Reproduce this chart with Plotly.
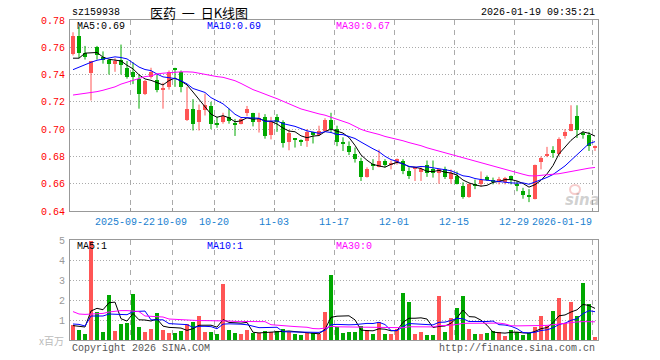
import plotly.graph_objects as go

# ---------------- data ----------------
code = "sz159938"
title = "医药\u00a0\u00a0一\u00a0\u00a0日K线图"
stamp = "2026-01-19 09:35:21"

opens = [0.755, 0.768, 0.756, 0.741, 0.760, 0.753, 0.751, 0.748, 0.751, 0.745,
         0.742, 0.737, 0.726, 0.738, 0.736, 0.729, 0.731, 0.7445, 0.742, 0.707,
         0.715, 0.705, 0.714, 0.717, 0.704, 0.705, 0.709, 0.704, 0.704, 0.712,
         0.712, 0.705, 0.709, 0.696, 0.709, 0.705, 0.6905, 0.693, 0.6915, 0.691,
         0.698, 0.6955, 0.699, 0.7065, 0.700, 0.6905, 0.688, 0.682, 0.677, 0.665,
         0.674, 0.6725, 0.677, 0.674, 0.6755, 0.677, 0.669, 0.6705, 0.6685, 0.6735,
         0.671, 0.6675, 0.6705, 0.6635, 0.666, 0.658, 0.6505, 0.6595, 0.660, 0.665,
         0.6627, 0.661, 0.661, 0.6655, 0.660, 0.6545, 0.652, 0.649, 0.676, 0.680,
         0.685, 0.6815, 0.695, 0.699, 0.7095, 0.697, 0.6955, 0.6868]
highs = [0.771, 0.775, 0.761, 0.750, 0.761, 0.757, 0.751, 0.752, 0.762, 0.750,
         0.749, 0.740, 0.736, 0.745, 0.740, 0.734, 0.743, 0.745, 0.743, 0.731,
         0.722, 0.718, 0.726, 0.720, 0.709, 0.712, 0.715, 0.7075, 0.708, 0.717,
         0.712, 0.712, 0.711, 0.709, 0.711, 0.7065, 0.6995, 0.693, 0.6925, 0.700,
         0.698, 0.7025, 0.708, 0.712, 0.7025, 0.694, 0.691, 0.6865, 0.679, 0.672,
         0.678, 0.685, 0.678, 0.677, 0.6785, 0.678, 0.672, 0.6725, 0.672, 0.677,
         0.677, 0.6705, 0.6725, 0.6705, 0.669, 0.661, 0.660, 0.663, 0.669, 0.666,
         0.6645, 0.665, 0.665, 0.666, 0.662, 0.657, 0.656, 0.674, 0.680, 0.687,
         0.6875, 0.694, 0.700, 0.7175, 0.7175, 0.6985, 0.698, 0.688]
lows = [0.754, 0.752, 0.751, 0.721, 0.751, 0.748, 0.740, 0.742, 0.740, 0.737,
        0.733, 0.715, 0.725, 0.737, 0.727, 0.715, 0.729, 0.731, 0.727, 0.706,
        0.699, 0.699, 0.710, 0.700, 0.701, 0.704, 0.704, 0.695, 0.7035, 0.7095,
        0.702, 0.6975, 0.693, 0.6925, 0.698, 0.6865, 0.6845, 0.6865, 0.6877, 0.687,
        0.6895, 0.695, 0.699, 0.6975, 0.6875, 0.684, 0.681, 0.6755, 0.662, 0.6645,
        0.670, 0.672, 0.672, 0.6705, 0.674, 0.667, 0.6635, 0.662, 0.662, 0.665,
        0.6645, 0.660, 0.6635, 0.660, 0.6595, 0.649, 0.6497, 0.656, 0.658, 0.662,
        0.6595, 0.6595, 0.6595, 0.6595, 0.6545, 0.649, 0.6465, 0.6485, 0.6705, 0.6795,
        0.679, 0.6805, 0.693, 0.6985, 0.6935, 0.693, 0.684, 0.684]
closes = [0.768, 0.756, 0.753, 0.750, 0.754, 0.751, 0.748, 0.750, 0.747, 0.738,
          0.738, 0.726, 0.735, 0.742, 0.729, 0.730, 0.742, 0.744, 0.731, 0.715,
          0.704, 0.714, 0.718, 0.704, 0.7035, 0.710, 0.706, 0.7035, 0.7075, 0.7145,
          0.705, 0.708, 0.695, 0.706, 0.705, 0.690, 0.697, 0.6925, 0.691, 0.698,
          0.696, 0.699, 0.707, 0.700, 0.6905, 0.689, 0.683, 0.678, 0.665, 0.671,
          0.6735, 0.677, 0.674, 0.6755, 0.678, 0.669, 0.666, 0.672, 0.6705, 0.668,
          0.668, 0.6705, 0.665, 0.668, 0.660, 0.650, 0.660, 0.658, 0.663, 0.663,
          0.661, 0.6635, 0.6645, 0.663, 0.658, 0.652, 0.650, 0.6735, 0.679, 0.6815,
          0.6825, 0.693, 0.698, 0.704, 0.6995, 0.6955, 0.6875, 0.688]
volumes = [0.75, 0.5, 0.3, 4.95, 1.42, 0.4, 2.25, 0.45, 0.8, 0.83,
           2.3, 0.67, 0.4, 0.55, 1.35, 0.5, 0.35, 0.33, 0.45, 0.78,
           0.92, 1.2, 0.4, 0.4, 0.3, 2.8, 0.5, 0.33, 0.28, 0.5,
           0.33, 0.33, 0.45, 0.4, 0.45, 0.55, 0.4, 0.3, 0.25, 0.35,
           0.35, 0.3, 1.42, 3.25, 0.63, 0.35, 0.4, 0.4, 0.7, 0.5,
           0.3, 0.9, 0.3, 0.3, 0.55, 2.37, 1.92, 0.3, 0.4, 0.25,
           0.25, 2.2, 0.4, 1.1, 1.6, 2.2, 0.55, 0.3, 0.3, 0.35,
           0.47, 0.4, 0.2, 0.5, 0.4, 0.27, 0.35, 0.63, 1.18, 0.68,
           1.47, 2.08, 0.85, 1.92, 1.22, 2.83, 1.8, 0.13]

# moving-average values visible before enough bars exist on the chart
ma5_head = [0.752, 0.752, 0.7557, 0.7557]
ma10_head = [0.7436, 0.7455, 0.747, 0.749, 0.7505, 0.7515, 0.7525, 0.753, 0.7525]
ma30_head = [0.725, 0.7255, 0.726, 0.7267, 0.7275, 0.7285, 0.7295, 0.731, 0.733, 0.7345,
             0.736, 0.737, 0.7385, 0.739, 0.7405, 0.741, 0.7415, 0.7418, 0.742, 0.742,
             0.7418, 0.741, 0.740, 0.7395, 0.7385, 0.738, 0.737, 0.7355, 0.7335]
vma5_head = [0.72, 0.68, 0.65, 1.45]
vma10_head = [0.8, 0.78, 0.7, 1.2, 1.2, 1.2, 1.3, 1.3, 1.3]
vma30_head = [1.42, 1.3, 1.28, 1.3, 1.33, 1.33, 1.4, 1.45, 1.47, 1.47,
              1.45, 1.42, 1.2, 1.18, 1.18, 1.15, 1.05, 1.03, 1.02, 0.98,
              0.97, 0.97, 0.97, 0.97, 0.97, 0.98, 0.95, 0.93, 0.93]

tick_index = [10, 17, 24, 34, 44, 54, 64, 74, 87]
tick_labels = ["2025-09-22", "10-09", "10-20", "11-03", "11-17", "12-01", "12-15", "12-29", "2026-01-19"]
price_ticks = [0.64, 0.66, 0.68, 0.70, 0.72, 0.74, 0.76, 0.78]
vol_ticks = [1, 2, 3, 4, 5]

# ---------------- helpers ----------------
def moving(vals, n, head):
    out = []
    for i in range(len(vals)):
        if i < n - 1:
            out.append(head[i])
        else:
            out.append(sum(vals[i - n + 1:i + 1]) / n)
    return out

N = len(closes)
idx = list(range(N))
ma5 = moving(closes, 5, ma5_head)
ma10 = moving(closes, 10, ma10_head)
ma30 = moving(closes, 30, ma30_head)
vma5 = moving(volumes, 5, vma5_head)
vma10 = moving(volumes, 10, vma10_head)
vma30 = moving(volumes, 30, vma30_head)

RED = "#ff5555"
GREEN = "#00a800"
up = [c >= o for o, c in zip(opens, closes)]
colors = [RED if u else GREEN for u in up]

W, H = 660, 360
L, R, T, B = 70, 62, 20, 20
PW, PH = W - L - R, H - T - B


def px(x):
    return (x - L) / PW


def py(y):
    return (H - B - y) / PH


MONO = "Liberation Mono, DejaVu Sans Mono, monospace"

fig = go.Figure()

# wicks
for col, flag in ((RED, True), (GREEN, False)):
    wx, wy = [], []
    for i in idx:
        if up[i] == flag:
            wx += [i, i, None]
            wy += [lows[i], highs[i], None]
    fig.add_trace(go.Scatter(x=wx, y=wy, mode="lines", line=dict(color=col, width=1),
                             hoverinfo="skip", showlegend=False, xaxis="x", yaxis="y"))

# bodies
base = [min(o, c) for o, c in zip(opens, closes)]
height = [max(abs(c - o), 0.0006) for o, c in zip(opens, closes)]
fig.add_trace(go.Bar(x=idx, y=height, base=base, marker=dict(color=colors, line=dict(width=0)),
                     width=0.83, showlegend=False, xaxis="x", yaxis="y"))

for vals, col in ((ma5, "black"), (ma10, "#0000ff"), (ma30, "#ff00ff")):
    fig.add_trace(go.Scatter(x=idx, y=vals, mode="lines", line=dict(color=col, width=1),
                             showlegend=False, xaxis="x", yaxis="y"))

# volume
fig.add_trace(go.Bar(x=idx, y=volumes, marker=dict(color=colors, line=dict(width=0)),
                     width=0.83, showlegend=False, xaxis="x2", yaxis="y2"))
for vals, col in ((vma5, "black"), (vma10, "#0000ff"), (vma30, "#ff00ff")):
    fig.add_trace(go.Scatter(x=idx, y=vals, mode="lines", line=dict(color=col, width=1),
                             showlegend=False, xaxis="x2", yaxis="y2"))

grid_x = [t - 0.5 for t in tick_index]
FRAME = "#999999"
xcommon = dict(range=[-0.5, N - 0.5], tickvals=grid_x, showticklabels=False,
               showgrid=True, gridcolor="#aaaaaa", griddash="5px,5px", gridwidth=1,
               showline=True, mirror=True, linecolor=FRAME, linewidth=1, zeroline=False)

main_bottom = py(211)
vol_top = py(240)

fig.update_layout(
    width=W, height=H,
    margin=dict(l=L, r=R, t=T, b=B, pad=0),
    paper_bgcolor="white", plot_bgcolor="white",
    barmode="overlay", bargap=0,
    xaxis=dict(**xcommon, anchor="y", ticks="inside", ticklen=3, tickcolor=FRAME),
    xaxis2=dict(**xcommon, anchor="y2", matches="x", ticks=""),
    yaxis=dict(domain=[main_bottom, 1], range=[0.64, 0.78], tickvals=price_ticks,
               ticktext=[f"{v:.2f}" for v in price_ticks],
               tickfont=dict(family=MONO, size=10, color="#ff0000"),
               ticks="outside", ticklen=2, tickcolor="rgba(0,0,0,0)",
               showgrid=True, gridcolor="#aaaaaa", griddash="1px,2px",
               showline=True, mirror=True, linecolor=FRAME, zeroline=False),
    yaxis2=dict(domain=[0, vol_top], range=[0, 5], tickvals=vol_ticks,
                ticktext=[str(v) for v in vol_ticks],
                tickfont=dict(family=MONO, size=10, color="#999999"),
                ticks="outside", ticklen=2, tickcolor="rgba(0,0,0,0)",
                showgrid=True, gridcolor="#aaaaaa", griddash="1px,2px",
                showline=True, mirror=True, linecolor=FRAME, zeroline=False),
    showlegend=False,
)

ann = []


def text(x, y, s, color="black", anchor="left", size=10, family=MONO, xref="paper"):
    ann.append(dict(x=x, y=y, xref=xref, yref="paper", text=s, showarrow=False,
                    xanchor=anchor, yanchor="middle",
                    font=dict(family=family, size=size, color=color)))


text(px(70), py(13), code)
text(px(199), py(13), title, anchor="center", size=13,
     family="Noto Sans CJK SC, sans-serif")
text(px(597), py(13), stamp, anchor="right")

text(px(75), py(26), f"MA5:{ma5[-1]:.2f}", "black")
text(px(205), py(26), f"MA10:{ma10[-1]:.2f}", "#0000ff")
text(px(334), py(26), f"MA30:{ma30[-1]:.2f}", "#ff00ff")

text(px(75), py(246), f"MA5:{int(vma5[-1])}", "black")
text(px(205), py(246), f"MA10:{int(vma10[-1])}", "#0000ff")
text(px(334), py(246), f"MA30:{int(vma30[-1])}", "#ff00ff")

n_ticks = len(tick_index)
for k, (ti, lab) in enumerate(zip(tick_index, tick_labels)):
    if k == 0:
        # first label ends where the next one begins (as in the reference)
        xpos, anchor = tick_index[1] - 0.5 - 2.5, "right"
    elif k == n_ticks - 1:
        xpos, anchor = N - 0.5 - 0.6, "right"
    else:
        xpos, anchor = ti - 0.5, "center"
    ann.append(dict(x=xpos, y=py(222), xref="x", yref="paper",
                    text=lab, showarrow=False, xanchor=anchor,
                    yanchor="middle", font=dict(family=MONO, size=10, color="#1a7fd0")))

text(px(66), py(340), "x百万", "#bbbbbb", anchor="right", size=10,
     family="Noto Sans CJK SC, sans-serif")
text(px(70), py(348), "Copyright 2026 SINA.COM", "#555555")
text(px(597), py(348), "http://finance.sina.com.cn", "#555555", anchor="right")

# watermark
text(px(582), py(200), "<b><i>sina</i></b>", "rgba(150,150,150,0.45)", anchor="center", size=15,
     family="DejaVu Sans")

fig.update_layout(
    annotations=ann,
    shapes=[dict(type="circle", xref="paper", yref="paper",
                 x0=px(570), x1=px(580), y0=py(194), y1=py(185),
                 line=dict(color="rgba(230,110,110,0.35)", width=2))],
)
fig.write_html("out.html")
